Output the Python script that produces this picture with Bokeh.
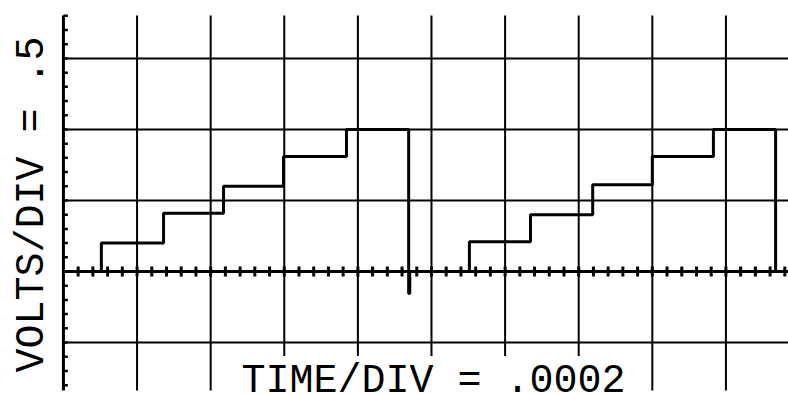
import numpy as np
from bokeh.plotting import figure
from bokeh.models import Range1d, Label
from bokeh.embed import file_html
from bokeh.resources import INLINE

# Scope settings
TIME_PER_DIV_MS = 0.2   # .0002 s per division
VOLTS_PER_DIV = 0.5

# Staircase trace, two sweeps: step instants (ms) and the level held after each (V)
step_times_ms = [0.0, 0.103, 0.272, 0.435, 0.598, 0.769, 0.938, 0.941,
                 1.103, 1.269, 1.438, 1.600, 1.766, 1.935]
step_levels_v = [0.0, 0.20, 0.41, 0.60, 0.81, 1.00, -0.155, 0.0,
                 0.21, 0.40, 0.61, 0.81, 1.00, 0.0]

# Text on the display
y_title = "VOLTS/DIV = .5"
x_title = "TIME/DIV = .0002"

# Visible window of the graticule
T_END = 1.970
V_TOP, V_BOT = 1.803, -0.838
X_MIN, Y_MIN, Y_MAX = -0.171, -0.866, 1.908

p = figure(width=788, height=394, output_backend="svg", toolbar_location=None,
           x_range=Range1d(X_MIN, T_END), y_range=Range1d(Y_MIN, Y_MAX),
           x_axis_location=None, y_axis_location=None,
           min_border=0, min_border_left=0, min_border_right=0,
           min_border_top=0, min_border_bottom=0)
p.grid.visible = False
p.outline_line_color = None
p.background_fill_color = "white"
p.border_fill_color = "white"

ink = "black"

# Vertical graticule lines (one per time division)
gx = [TIME_PER_DIV_MS * k for k in range(1, int(T_END / TIME_PER_DIV_MS) + 1)]
p.segment(x0=gx, y0=[V_BOT] * len(gx), x1=gx, y1=[V_TOP] * len(gx),
          line_color=ink, line_width=2)

# Horizontal graticule lines
gy = [VOLTS_PER_DIV * k for k in (-1, 1, 2, 3)]
p.segment(x0=[0] * len(gy), y0=gy, x1=[T_END] * len(gy), y1=gy,
          line_color=ink, line_width=2)

# Left axis with minor ticks every fifth of a division
p.segment(x0=[0], y0=[V_BOT], x1=[0], y1=[V_TOP], line_color=ink, line_width=3)
vt = np.arange(-0.8, V_TOP, VOLTS_PER_DIV / 5)
p.segment(x0=np.zeros(len(vt)), y0=vt, x1=np.full(len(vt), 0.012), y1=vt,
          line_color=ink, line_width=2.5)

# Centre (zero volt) axis with minor ticks
p.segment(x0=[0], y0=[0], x1=[T_END], y1=[0], line_color=ink, line_width=3)
tt = np.arange(TIME_PER_DIV_MS / 5, T_END, TIME_PER_DIV_MS / 5)
p.segment(x0=tt, y0=np.full(len(tt), -0.035), x1=tt, y1=np.full(len(tt), 0.035),
          line_color=ink, line_width=3)

# The measured staircase signal
p.step(x=step_times_ms + [T_END], y=step_levels_v + [step_levels_v[-1]],
       mode="after", line_color=ink, line_width=3)

# Settings read-outs
def px_to_t(px):
    return X_MIN + px / 788 * (T_END - X_MIN)

def py_to_v(py):
    return Y_MAX - py / 394 * (Y_MAX - Y_MIN)

p.add_layout(Label(x=px_to_t(32), y=py_to_v(372), text=y_title, angle=np.pi / 2,
                   text_align="left", text_baseline="alphabetic",
                   text_font="Liberation Mono", text_font_size="40px",
                   text_color=ink))
p.add_layout(Label(x=px_to_t(238), y=py_to_v(381), text=x_title,
                   text_align="left", text_baseline="alphabetic",
                   text_font="Liberation Mono", text_font_size="40px",
                   text_color=ink, background_fill_color="white", padding=3))

open("out.html", "w").write(file_html(p, INLINE))
